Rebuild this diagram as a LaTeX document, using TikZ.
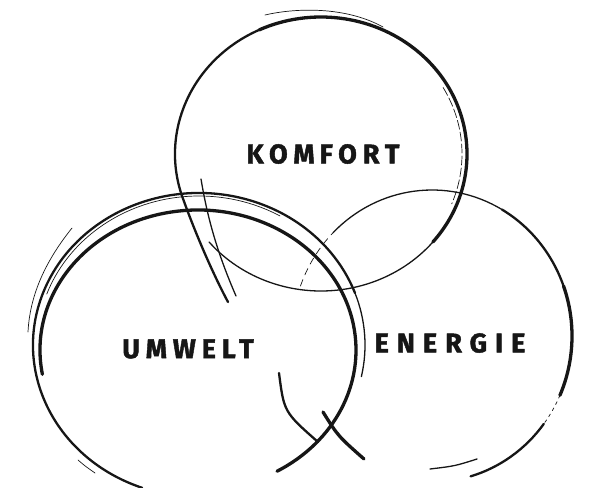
\documentclass[tikz,border=0pt]{standalone}
\usepackage{fontspec}
\newfontfamily\handfont{Fira Sans}[LetterSpace=22,BoldFeatures={FakeBold=1.6}]
\definecolor{ink}{HTML}{161616}
\begin{document}
\begin{tikzpicture}[x=1pt,y=-1pt,
  pen/.style={draw=ink,line cap=round,line join=round},
  heavy/.style={pen,line width=3.3pt},
  mid/.style={pen,line width=2.3pt},
  light/.style={pen,line width=1.3pt},
  hair/.style={pen,line width=0.7pt},
  label/.style={inner sep=0pt,font=\handfont\bfseries\fontsize{27}{27}\selectfont,text=ink}]
\useasboundingbox (0,0) rectangle (594,487);
% ---- top circle (KOMFORT)
\coordinate (tc) at (321,154);
\draw[heavy] (tc) ++(400:146 and 137) arc[start angle=400,end angle=245,x radius=146,y radius=137];
\draw[mid]   (tc) ++(245:146 and 137) arc[start angle=245,end angle=160,x radius=146,y radius=137]
             .. controls (195,232) and (212,272) .. (228,302);
\draw[light] (tc) ++(40:146 and 137) arc[start angle=40,end angle=140,x radius=146,y radius=137];
\draw[hair] (265,15) .. controls (295,8) and (345,6) .. (383,27);
\draw[hair,dash pattern=on 9pt off 3pt] (tc) ++(330:141 and 133) arc[start angle=330,end angle=382,x radius=141,y radius=133];
\draw[light] (201,179) .. controls (207,215) and (216,250) .. (236,296);
% ---- left circle (UMWELT)
\coordinate (lc) at (199,345);
\coordinate (lb) at (198,350);
\draw[mid]   (lc) ++(110:166 and 152) arc[start angle=110,end angle=340,x radius=166,y radius=152];
\draw[light] (lc) ++(340:166 and 152) arc[start angle=340,end angle=372,x radius=166,y radius=152];
\draw[hair]  (lc) ++(200:162 and 149) arc[start angle=200,end angle=300,x radius=162,y radius=149];
\draw[heavy] (lb) ++(170:158 and 140) arc[start angle=170,end angle=420,x radius=158,y radius=140];
\draw[hair] (72,228) .. controls (48,258) and (30,292) .. (28,332);
\draw[hair] (78,460) .. controls (85,466) .. (95,473);
% ---- right circle (ENERGIE)
\coordinate (rc) at (432,336);
\draw[hair,dash pattern=on 7pt off 5pt] (rc) ++(200:140 and 146) arc[start angle=200,end angle=225,x radius=140,y radius=146];
\draw[light] (rc) ++(225:140 and 146) arc[start angle=225,end angle=300,x radius=140,y radius=146];
\draw[mid]   (rc) ++(300:140 and 146) arc[start angle=300,end angle=340,x radius=140,y radius=146];
\draw[heavy] (rc) ++(340:140 and 146) arc[start angle=340,end angle=384,x radius=140,y radius=146];
\draw[hair,dash pattern=on 3pt off 4pt] (rc) ++(384:140 and 146) arc[start angle=384,end angle=397,x radius=140,y radius=146];
\draw[mid]   (rc) ++(397:140 and 146) arc[start angle=397,end angle=434,x radius=140,y radius=146];
\draw[light] (430,469) .. controls (455,466) .. (477,459);
\draw[heavy] (323,412) .. controls (338,436) .. (364,459);
\draw[mid] (279,373) .. controls (284,412) .. (318,442);
% ---- labels
\node[label] (komfort) at (323,154) {KOM\kern5pt FORT};
\node[label] (umwelt) at (188,349) {UMWELT};
\node[label] (energie) at (450,343) {\addfontfeature{LetterSpace=30}ENERGIE};
\end{tikzpicture}
\end{document}
